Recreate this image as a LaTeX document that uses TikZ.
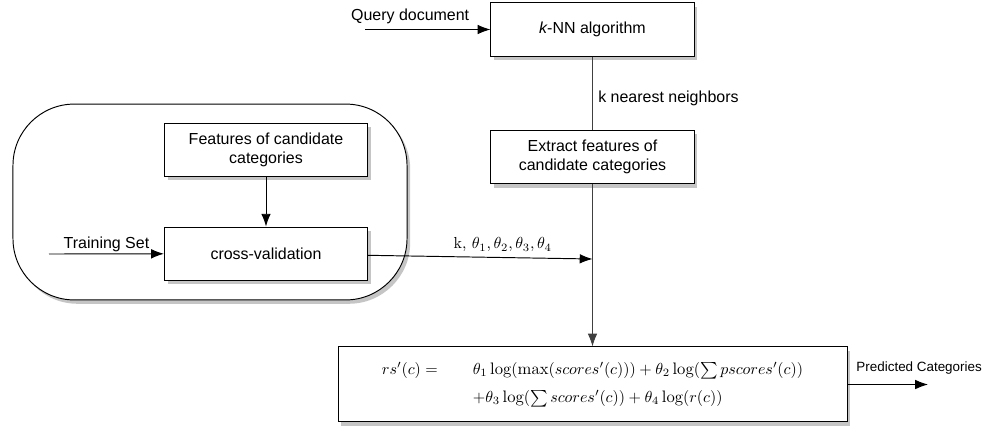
\documentclass[tikz,border=0pt]{standalone}
\usepackage{amsmath}
\usepackage{amssymb}
\usepackage{fontspec}
\newfontfamily\helvfont{Liberation Sans}
\usepackage{tikz}
\usetikzlibrary{arrows,arrows.meta,positioning,shadows}

\tikzset{
    boxshadow/.style={drop shadow={shadow xshift=2pt, shadow yshift=-2.4pt, fill=black!45}},
    procbox/.style={rectangle, draw, fill=white, boxshadow, font=\helvfont, align=center,
        minimum width=4.47cm, minimum height=1.17cm, inner sep=2pt},
    flow/.style={-{Latex[length=8pt,width=6pt]}},
    lbl/.style={font=\helvfont}
}

\begin{document}
\begin{tikzpicture}[x=0.022cm, y=0.022cm, line width=0.6pt, node distance=2cm, auto]
    \useasboundingbox (0,0) rectangle (991,-429);

    % training part
    \node[rectangle, draw, fill=white, boxshadow, rounded corners=1.35cm,
        minimum width=8.67cm, minimum height=4.31cm] (train) at (210,-202) {};
    \node[procbox] (feat) at (266,-150) {Features of candidate\\categories};
    \node[procbox] (cv) [below of=feat, node distance=2.28cm] {cross-validation};

    % classification part
    \node[procbox] (knn) at (592.5,-29.5) {{\itshape k}-NN algorithm};
    \node[procbox] (extract) [below of=knn, node distance=2.81cm] {Extract features of\\candidate categories};
    \node[procbox, font=\fontsize{10.4}{12.5}\selectfont, minimum width=11.2cm, minimum height=1.65cm] (score)
        [below of=extract, node distance=5.0cm]
        {$\begin{array}{@{}r@{\hspace{22pt}}l@{}}
            rs'(c) = & \theta_1\log(\max(scores'(c))) + \theta_2\log(\sum pscores'(c)) \\[5pt]
                     & +\theta_3\log(\sum scores'(c)) + \theta_4\log(r(c))
          \end{array}$};

    \coordinate (qdoc) at (365,-29.5);
    \coordinate (tset) at (49,-254);
    \coordinate (join) at (592.5,-259);
    \coordinate (predout) at (928,-384.5);

    \draw[flow] (qdoc) -- node[lbl, above, pos=0.36, inner sep=3pt] {Query document} (knn);
    \draw[black!75] (knn) -- node[lbl, right, pos=0.57, black] {k nearest neighbors} (extract);
    \draw[flow, black!75] (extract) -- (score);
    \draw[flow] (tset) -- node[lbl, above, inner sep=1pt] {Training Set} (cv);
    \draw[flow] (feat) -- (cv);
    \draw[flow] (cv) -- node[above, pos=0.6] {k, $\theta_1, \theta_2, \theta_3, \theta_4$} (join);
    \draw[flow] (score.east |- predout) -- node[lbl, above right, pos=0, xshift=2pt, yshift=3pt,
        font=\helvfont\fontsize{8.4}{10}\selectfont] {Predicted Categories} (predout);
\end{tikzpicture}
\end{document}
